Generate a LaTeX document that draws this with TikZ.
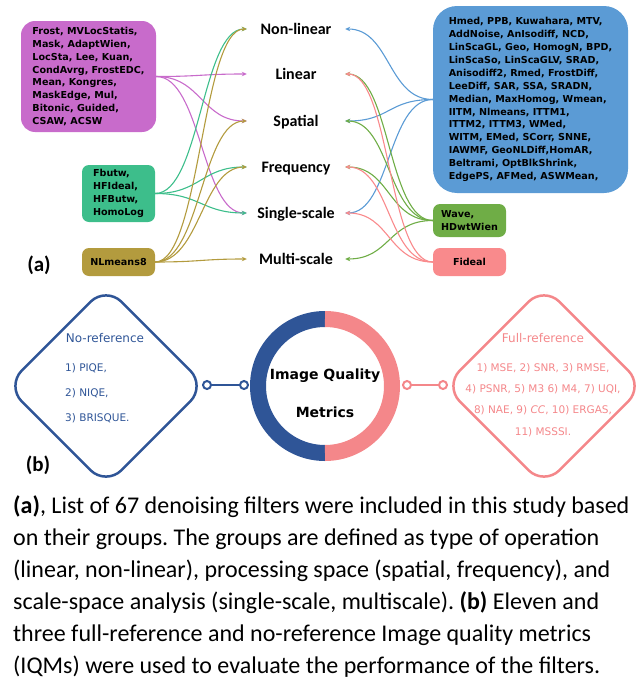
\documentclass[tikz,border=0pt]{standalone}
\usepackage{fontspec}
\setmainfont{Carlito}
\newfontfamily\comicfont{DejaVu Sans}
\usetikzlibrary{arrows.meta}

\definecolor{filtpurple}{HTML}{C86BCB}
\definecolor{filtteal}{HTML}{3DBE8B}
\definecolor{filtolive}{HTML}{B39B3E}
\definecolor{filtblue}{HTML}{5B9BD5}
\definecolor{filtgreen}{HTML}{6FAD46}
\definecolor{filtpink}{HTML}{F98A8C}
\definecolor{iqmnavy}{HTML}{2F5597}
\definecolor{iqmpink}{HTML}{F4878A}

\tikzset{
  groupbox/.style={rounded corners=7pt, inner sep=0pt, align=left,
    font=\comicfont\bfseries\fontsize{9.6}{12.9}\selectfont},
  catlabel/.style={minimum width=98pt, inner sep=0pt, text height=10.3pt, text depth=0pt,
    font=\bfseries\fontsize{16}{18}\selectfont},
  link/.style={line width=1.1pt, -{Stealth[length=5pt,width=4.5pt]}},
  ring/.style={line width=16pt},
  plug/.style={circle, draw, line width=2pt, fill=white, minimum size=8pt, inner sep=0pt},
  refdiam/.style={draw, line width=2.5pt, rounded corners=22pt, minimum size=141pt, rotate=45},
  panel/.style={font=\bfseries\fontsize{21}{24}\selectfont, inner sep=0pt}
}

\begin{document}
\frenchspacing
\begin{tikzpicture}[x=1pt, y=-1pt]
    \useasboundingbox (0,0) rectangle (643,680);

    % (a) filter groups
    \node [groupbox, fill=filtpurple, rounded corners=14pt, minimum width=135pt, minimum height=111pt] (purple) at (88.5,76.5)
        {Frost, MVLocStatis,\\Mask, AdaptWien,\\LocSta, Lee, Kuan,\\CondAvrg, FrostEDC,\\Mean, Kongres,\\MaskEdge, Mul,\\Bitonic, Guided,\\CSAW, ACSW};
    \node [groupbox, fill=filtteal, minimum width=73pt, minimum height=57pt] (teal) at (118.5,193.5)
        {Fbutw,\\HFIdeal,\\HFButw,\\HomoLog};
    \node [groupbox, fill=filtolive, minimum width=73pt, minimum height=28pt] (olive) at (118.5,262) {NLmeans8};
    \node [groupbox, fill=filtblue, rounded corners=24pt, minimum width=195pt, minimum height=187pt] (blue) at (530.5,99.5)
        {Hmed, PPB, Kuwahara, MTV,\\AddNoise, AnIsodiff, NCD,\\LinScaGL, Geo, HomogN, BPD,\\LinScaSo, LinScaGLV, SRAD,\\Anisodiff2, Rmed, FrostDiff,\\LeeDiff, SAR, SSA, SRADN,\\Median, MaxHomog, Wmean,\\IITM, Nlmeans, ITTM1,\\ITTM2, ITTM3, WMed,\\WITM, EMed, SCorr, SNNE,\\IAWMF, GeoNLDiff,HomAR,\\Beltrami, OptBlkShrink,\\EdgePS, AFMed, ASWMean,};
    \node [groupbox, fill=filtgreen, minimum width=73pt, minimum height=33pt] (green) at (469.5,220.5) {Wave,\\HDwtWien};
    \node [groupbox, fill=filtpink, minimum width=73pt, minimum height=28pt, align=center] (pink) at (469.5,262) {Fideal};

    \node [catlabel] (nonlin) at (296,29) {Non-linear};
    \node [catlabel] (lin) at (296,74) {Linear};
    \node [catlabel] (spat) at (296,121) {Spatial};
    \node [catlabel] (freq) at (296,167) {Frequency};
    \node [catlabel] (single) at (296,213) {Single-scale};
    \node [catlabel] (multi) at (296,259) {Multi-scale};

    \foreach \cat in {lin, spat, single}
        \draw[link, filtpurple] (purple.east) .. controls +(45,0) and +(-45,0) .. (\cat.west);
    \foreach \cat in {nonlin, freq, single}
        \draw[link, filtteal] (teal.east) .. controls +(45,0) and +(-45,0) .. (\cat.west);
    \foreach \cat in {nonlin, spat, freq, multi}
        \draw[link, filtolive] (olive.east) .. controls +(45,0) and +(-45,0) .. (\cat.west);
    \foreach \cat in {nonlin, spat, single}
        \draw[link, filtblue] (blue.west) .. controls +(-45,0) and +(45,0) .. (\cat.east);
    \foreach \cat in {lin, spat, freq, multi}
        \draw[link, filtgreen] (green.west) .. controls +(-45,0) and +(45,0) .. (\cat.east);
    \foreach \cat in {lin, freq, single}
        \draw[link, filtpink] (pink.west) .. controls +(-45,0) and +(45,0) .. (\cat.east);

    \node [panel] (tagA) at (39,265) {(a)};

    % (b) image quality metrics
    \node [refdiam, draw=iqmnavy] (nodiam) at (106,386) {};
    \node [refdiam, draw=iqmpink] (fulldiam) at (544,386) {};
    \node [font=\comicfont\fontsize{12}{14}\selectfont, text=iqmnavy] (notitle) at (105,338) {No-reference};
    \node [anchor=west, align=left, inner sep=0pt, font=\comicfont\fontsize{10.5}{25}\selectfont, text=iqmnavy] (nolist) at (65,393)
        {1) PIQE,\\2) NIQE,\\3) BRISQUE.};
    \node [font=\comicfont\fontsize{12}{14}\selectfont, text=iqmpink] (fulltitle) at (543,338) {Full-reference};
    \node [align=center, inner sep=0pt, font=\comicfont\fontsize{10.5}{21.3}\selectfont, text=iqmpink] (fulllist) at (543,400)
        {1) MSE, 2) SNR, 3) RMSE,\\4) PSNR, 5) M3 6) M4, 7) UQI,\\8) NAE, 9) \textit{CC}, 10) ERGAS,\\11) MSSSI.};

    \node [align=center, inner sep=0pt, font=\comicfont\bfseries\fontsize{14}{38}\selectfont] (iqm) at (325,393) {Image Quality\\Metrics};
    \draw[ring, iqmnavy] (325,386) ++(0,67) arc[start angle=90, end angle=270, radius=67];
    \draw[ring, iqmpink] (325,386) ++(0,-67) arc[start angle=-90, end angle=90, radius=67];

    \node [plug, draw=iqmnavy] (navyplugA) at (207,385) {};
    \node [plug, draw=iqmnavy] (navyplugB) at (244,385) {};
    \draw[iqmnavy, line width=2pt] (navyplugA) -- (navyplugB);
    \node [plug, draw=iqmpink] (pinkplugA) at (407,385) {};
    \node [plug, draw=iqmpink] (pinkplugB) at (443,385) {};
    \draw[iqmpink, line width=2pt] (pinkplugA) -- (pinkplugB);

    \node [panel] (tagB) at (38,465) {(b)};

    % caption
    \node [anchor=north west, align=left, inner sep=0pt, font=\fontsize{24}{32}\selectfont] (caption) at (13,495)
        {\textbf{(a)}, List of 67 denoising filters were included in this study based\\
         on their groups. The groups are defined as type of operation\\
         (linear, non-linear), processing space (spatial, frequency), and\\
         scale-space analysis (single-scale, multiscale). \textbf{(b)} Eleven and\\
         three full-reference and no-reference Image quality metrics\\
         (IQMs) were used to evaluate the performance of the filters.};
\end{tikzpicture}
\end{document}
